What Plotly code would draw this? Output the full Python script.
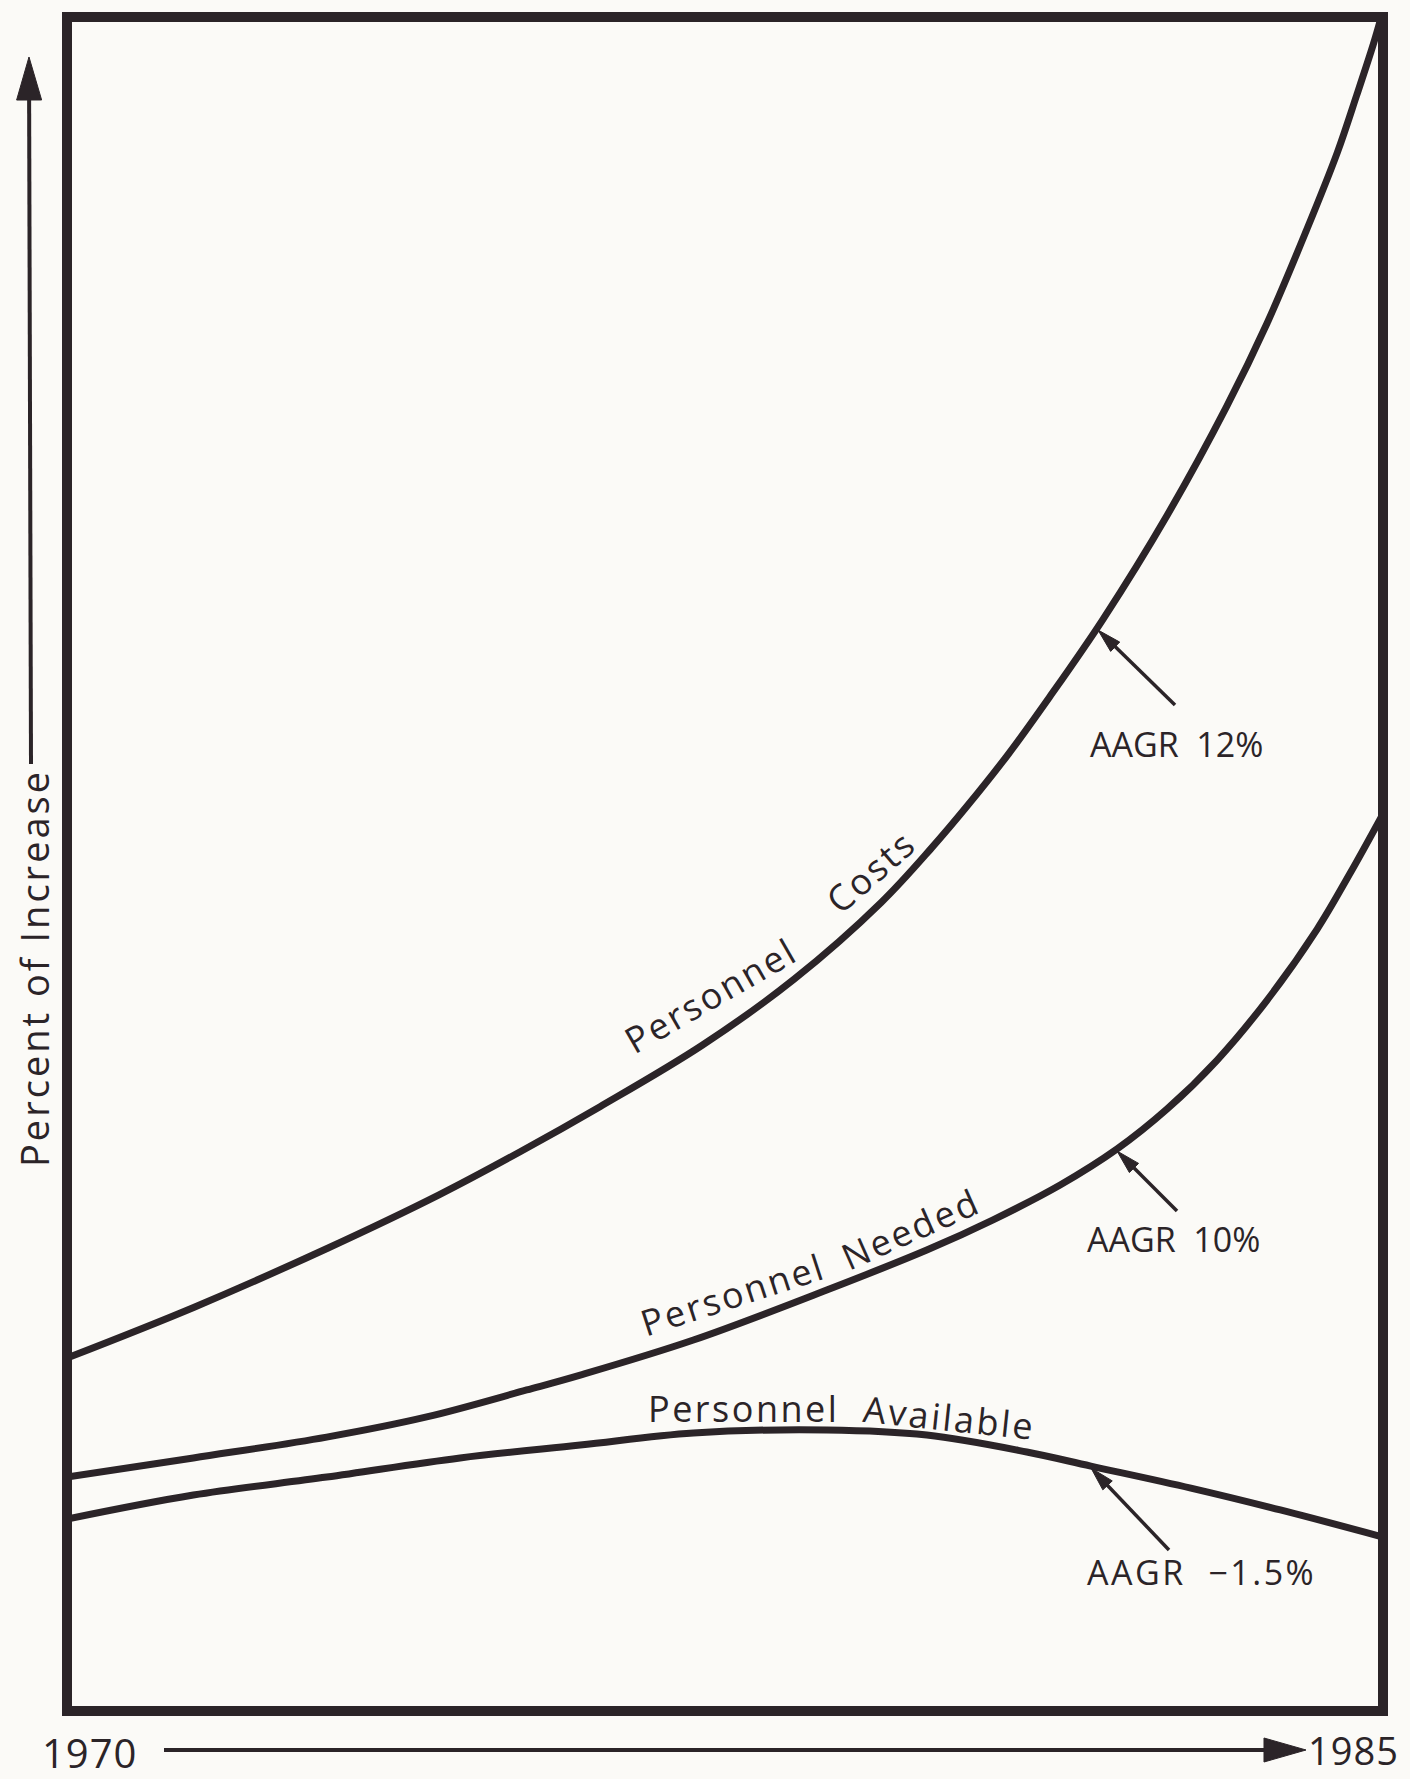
import math
import plotly.graph_objects as go

# ---------------- data ----------------
costs_years = [1970.00, 1971.45, 1972.97, 1974.24, 1975.16, 1976.08, 1977.24, 1978.29,
               1979.28, 1979.86, 1980.26, 1980.73, 1981.20, 1981.81, 1982.54, 1983.22,
               1983.68, 1984.13, 1984.48, 1984.70, 1984.89, 1984.98]
costs_vals = [20.84, 23.84, 27.32, 30.47, 33.00, 35.69, 39.30, 43.21,
              47.73, 50.98, 53.42, 56.49, 59.86, 64.46, 70.59, 77.03,
              81.94, 87.44, 92.01, 95.38, 98.40, 100.0]

needed_years = [1970.00, 1971.44, 1972.96, 1974.10, 1975.24, 1975.85, 1977.14, 1978.66,
                1979.80, 1980.55, 1981.32, 1981.97, 1982.54, 1983.11, 1983.68, 1984.25,
                1984.62, 1984.98]
needed_vals = [13.81, 14.94, 16.17, 17.36, 18.95, 19.83, 21.90, 24.85,
               27.21, 28.98, 31.05, 33.18, 35.54, 38.43, 41.97, 46.16,
               49.41, 52.77]

avail_years = [1970.00, 1971.44, 1972.96, 1974.48, 1975.85, 1977.14, 1978.66, 1979.80,
               1980.94, 1981.67, 1982.81, 1983.83, 1985.00]
avail_vals = [11.33, 12.75, 13.81, 14.94, 15.70, 16.41, 16.59, 16.29,
              15.29, 14.46, 13.16, 11.87, 10.27]

x_start_label = "1970"
x_end_label = "1985"
y_axis_label = "Percent of Increase"
series_words = [("Personnel", "Costs"), ("Personnel", "Needed"), ("Personnel", "Available")]
growth_labels = ["AAGR  12%", "AAGR  10%", "AAGR  −1.5%"]

# ---------------- styling / layout constants ----------------
W, H = 1410, 1779
L, R, T, B = 67, 1383, 17, 1711          # plot-area box in pixels
INK = "rgb(43,36,40)"
BG = "#fbfaf7"
FONT = "Open Sans"


def px(x):
    return (x - L) / (R - L)


def py(y):
    return (B - y) / (B - T)


def arrow(x0, y0, x1, y1, head_len, head_w, lw):
    """Shapes (line + filled head) for an arrow from (x0,y0) to tip (x1,y1), in pixels."""
    dx, dy = x1 - x0, y1 - y0
    n = math.hypot(dx, dy)
    ux, uy = dx / n, dy / n
    bx, by = x1 - ux * head_len, y1 - uy * head_len
    nx, ny = -uy, ux
    line = dict(type="line", xref="paper", yref="paper",
                x0=px(x0), y0=py(y0), x1=px(bx + ux * 2), y1=py(by + uy * 2),
                line=dict(color=INK, width=lw))
    p1 = (bx + nx * head_w / 2, by + ny * head_w / 2)
    p2 = (bx - nx * head_w / 2, by - ny * head_w / 2)
    path = "M {:.5f} {:.5f} L {:.5f} {:.5f} L {:.5f} {:.5f} Z".format(
        px(x1), py(y1), px(p1[0]), py(p1[1]), px(p2[0]), py(p2[1]))
    head = dict(type="path", xref="paper", yref="paper", path=path,
                fillcolor=INK, line=dict(color=INK, width=1))
    return [line, head]


fig = go.Figure()
for xs, ys in [(costs_years, costs_vals), (needed_years, needed_vals), (avail_years, avail_vals)]:
    fig.add_trace(go.Scatter(x=xs, y=ys, mode="lines",
                             line=dict(color=INK, width=7, shape="spline", smoothing=1.0),
                             cliponaxis=False, hoverinfo="skip"))

shapes = [dict(type="rect", xref="paper", yref="paper", x0=0, y0=0, x1=1, y1=1,
               line=dict(color=INK, width=10), layer="above")]
# axis arrows
shapes += arrow(31, 764, 29, 57, 43, 25, 4)
shapes += arrow(164, 1750, 1306, 1750, 42, 24, 4)
# AAGR pointers
shapes += arrow(1175, 705, 1098, 630, 24, 13, 3.5)
shapes += arrow(1177, 1211, 1117, 1151, 24, 13, 3.5)
shapes += arrow(1169, 1550, 1091, 1468, 24, 13, 3.5)

annotations = []


def txt(text, x, y, size, angle=0, xref="x", yref="y", xanchor="center", yanchor="middle", ls=0):
    if ls:
        text = '<span style="letter-spacing:{}px">{}</span>'.format(ls, text)
    annotations.append(dict(text=text, x=x, y=y, xref=xref, yref=yref, showarrow=False,
                            textangle=angle, xanchor=xanchor, yanchor=yanchor,
                            font=dict(family=FONT, size=size, color=INK)))


# curve labels
txt(series_words[0][0], 1977.33, 42.25, 36, -30, ls=2.5)
txt(series_words[0][1], 1979.16, 49.55, 36, -41, ls=2.5)
txt(series_words[1][0], 1977.58, 24.60, 36, -18, ls=2.5)
txt(series_words[1][1], 1979.62, 28.50, 36, -24, ls=2.5)
txt(series_words[2][0], 1977.71, 17.85, 36, 0, ls=2.5)
txt(series_words[2][1], 1980.06, 17.32, 36, 6, ls=2.5)

# growth-rate labels
txt(growth_labels[0], 1981.64, 57.08, 34, xanchor="left")
txt(growth_labels[1], 1981.60, 27.86, 34, xanchor="left")
txt(growth_labels[2], 1981.60, 8.21, 34, xanchor="left", ls=2.5)

# axis texts
txt(y_axis_label, px(34), py(968), 38, -90, xref="paper", yref="paper", ls=3)
txt(x_start_label, px(89), py(1753), 40, xref="paper", yref="paper", ls=1)
txt(x_end_label, px(1353), py(1778), 38, xref="paper", yref="paper", yanchor="bottom", ls=1)

fig.update_layout(
    width=W, height=H,
    margin=dict(l=L, r=W - R, t=T, b=H - B, pad=0),
    paper_bgcolor=BG, plot_bgcolor=BG,
    showlegend=False,
    xaxis=dict(range=[1970, 1985], visible=False, fixedrange=True),
    yaxis=dict(range=[0, 100], visible=False, fixedrange=True),
    shapes=shapes,
    annotations=annotations,
)

fig.write_html("out.html",
               config={"displayModeBar": False},
               post_script="document.body.style.margin='0px';document.body.style.overflow='hidden';"
                           "document.body.style.background='" + BG + "';")
